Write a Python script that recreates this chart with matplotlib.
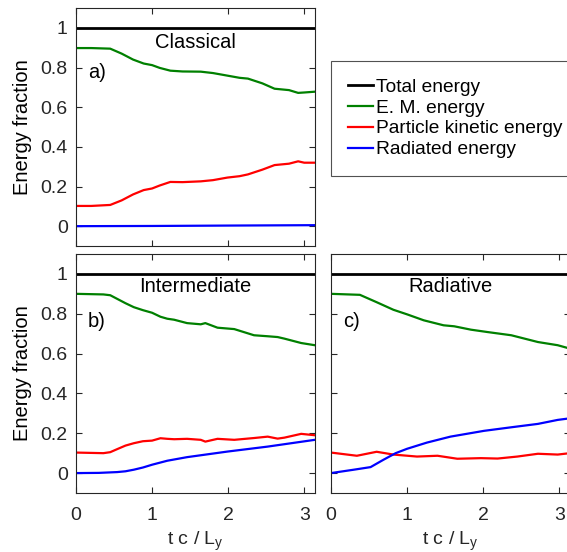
import matplotlib
matplotlib.use("Agg")
import matplotlib.pyplot as plt

plt.rcParams['font.family'] = ['Liberation Sans', 'DejaVu Sans']

# panel a) Classical
t_a = [0, 0.2, 0.45, 0.6, 0.75, 0.89, 1.0, 1.1, 1.24, 1.4, 1.64, 1.8, 1.99, 2.15, 2.26, 2.45, 2.61, 2.8, 2.92, 3.0, 3.14]
em_a = [0.898, 0.898, 0.895, 0.87, 0.84, 0.82, 0.812, 0.798, 0.784, 0.78, 0.779, 0.772, 0.759, 0.748, 0.744, 0.72, 0.693, 0.686, 0.672, 0.674, 0.678]
kin_a = [0.102, 0.102, 0.107, 0.13, 0.16, 0.182, 0.19, 0.205, 0.223, 0.222, 0.226, 0.232, 0.245, 0.252, 0.261, 0.285, 0.308, 0.315, 0.327, 0.32, 0.32]
t_a_rad = [0, 1.0, 2.0, 3.14]
rad_a = [0.0, 0.001, 0.003, 0.005]

# panel b) Intermediate
t_b = [0, 0.36, 0.45, 0.54, 0.65, 0.76, 0.88, 1.0, 1.11, 1.2, 1.29, 1.46, 1.64, 1.7, 1.86, 2.08, 2.34, 2.52, 2.65, 2.74, 2.96, 3.14]
em_b = [0.9, 0.897, 0.893, 0.875, 0.853, 0.833, 0.818, 0.805, 0.785, 0.775, 0.77, 0.753, 0.747, 0.753, 0.73, 0.723, 0.692, 0.687, 0.683, 0.675, 0.653, 0.642]
kin_b = [0.103, 0.1, 0.105, 0.12, 0.138, 0.15, 0.16, 0.163, 0.175, 0.172, 0.17, 0.172, 0.167, 0.158, 0.172, 0.167, 0.176, 0.183, 0.173, 0.178, 0.197, 0.19]
t_b_rad = [0, 0.3, 0.54, 0.65, 0.76, 0.88, 1.0, 1.2, 1.46, 1.99, 2.52, 3.14]
rad_b = [0.0, 0.001, 0.005, 0.009, 0.017, 0.028, 0.042, 0.062, 0.08, 0.108, 0.133, 0.167]

# panel c) Radiative
t_c = [0, 0.38, 0.6, 0.82, 1.0, 1.22, 1.48, 1.62, 1.84, 2.06, 2.37, 2.72, 2.98, 3.14]
em_c = [0.9, 0.895, 0.858, 0.82, 0.797, 0.767, 0.742, 0.737, 0.72, 0.708, 0.692, 0.658, 0.642, 0.625]
t_c_kin = [0, 0.34, 0.6, 0.82, 1.13, 1.4, 1.66, 1.97, 2.19, 2.45, 2.72, 2.98, 3.14]
kin_c = [0.103, 0.087, 0.107, 0.093, 0.083, 0.087, 0.072, 0.075, 0.073, 0.083, 0.097, 0.093, 0.1]
t_c_rad = [0, 0.3, 0.52, 0.69, 0.85, 1.0, 1.26, 1.57, 2.01, 2.37, 2.72, 2.98, 3.14]
rad_c = [0.0, 0.017, 0.03, 0.067, 0.1, 0.122, 0.153, 0.183, 0.212, 0.23, 0.247, 0.267, 0.275]

labels = ["Total energy", "E. M. energy", "Particle kinetic energy", "Radiated energy"]
xticks = [0, 1, 2, 3]
yticks = [0, 0.2, 0.4, 0.6, 0.8, 1]
ytick_labels = ["0", "0.2", "0.4", "0.6", "0.8", "1"]

fig = plt.figure(figsize=(5.67, 5.52), dpi=100)
W, H = 567, 552

def make_ax(x0, y0, w, h):
    return fig.add_axes([x0 / W, 1 - (y0 + h) / H, w / W, h / H])

ax_a = make_ax(76, 8, 239, 238)
ax_b = make_ax(76, 254, 239, 239)
ax_c = make_ax(331, 254, 239, 239)

gray = '#262626'
panels = [
    (ax_a, t_a, em_a, t_a, kin_a, t_a_rad, rad_a, "Classical", "a)", 0.855, 0.727),
    (ax_b, t_b, em_b, t_b, kin_b, t_b_rad, rad_b, "Intermediate", "b)", 0.862, 0.718),
    (ax_c, t_c, em_c, t_c_kin, kin_c, t_c_rad, rad_c, "Radiative", "c)", 0.862, 0.718),
]

handles = None
for ax, te, em, tk, kin, tr, rad, name, tag, yn, yt in panels:
    l1, = ax.plot([0, 3.1416], [1, 1], color='black', lw=2)
    l2, = ax.plot(te, em, color='#008000', lw=1.6)
    l3, = ax.plot(tk, kin, color='#ff0000', lw=1.6)
    l4, = ax.plot(tr, rad, color='#0000ff', lw=1.6)
    handles = [l1, l2, l3, l4]
    ax.set_xlim(0, 3.1416)
    ax.set_ylim(-0.1, 1.1)
    ax.set_xticks(xticks)
    ax.set_yticks(yticks)
    ax.tick_params(direction='in', top=True, right=True, length=4,
                   labelsize=14, colors=gray)
    ax.tick_params(axis='y', pad=6)
    ax.tick_params(axis='x', pad=10)
    for s in ax.spines.values():
        s.set_color(gray)
        s.set_linewidth(0.8)
    ax.text(0.5, yn, name, transform=ax.transAxes, ha='center', va='center',
            fontsize=14.5, color='black')
    ax.text(0.05, yt, tag, transform=ax.transAxes, ha='left', va='center',
            fontsize=14.5, color='black')

ax_a.set_yticklabels(ytick_labels)
ax_b.set_yticklabels(ytick_labels)
ax_a.set_xticklabels([])
ax_c.set_yticklabels([])
ax_a.set_ylabel("Energy fraction", fontsize=14.5, color='black', labelpad=6)
ax_b.set_ylabel("Energy fraction", fontsize=14.5, color='black', labelpad=6)
ax_b.set_xlabel("t c / L$_\\mathregular{y}$", fontsize=14, color=gray, labelpad=4)
ax_c.set_xlabel("t c / L$_\\mathregular{y}$", fontsize=14, color=gray, labelpad=4)

leg = fig.legend(handles, labels, loc='upper left',
                 bbox_to_anchor=(331 / W, 1 - 61 / H), borderaxespad=0,
                 fontsize=13.8, frameon=True, fancybox=False, borderpad=0.9,
                 handlelength=1.3, handletextpad=0.15, labelspacing=0.18)
leg.get_frame().set_edgecolor(gray)
leg.get_frame().set_linewidth(0.8)

fig.savefig("out.png", dpi=100)
